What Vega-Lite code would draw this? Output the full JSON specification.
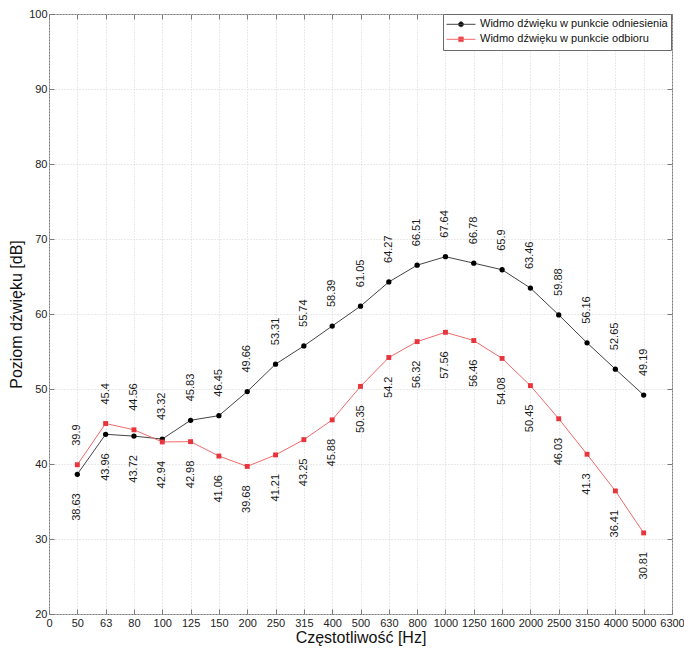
{
  "$schema": "https://vega.github.io/schema/vega-lite/v6.json",
  "width": 623,
  "height": 600,
  "autosize": {"type": "none"},
  "padding": {"left": 49, "top": 14, "right": 12, "bottom": 35},
  "background": "white",
  "config": {
    "view": {"stroke": "#7a7a7a", "strokeWidth": 1},
    "font": "Liberation Sans",
    "axis": {
      "labelFont": "Liberation Sans",
      "labelFontSize": 11,
      "labelColor": "#222222",
      "titleFont": "Liberation Sans",
      "titleFontSize": 16,
      "titleFontWeight": "normal",
      "titleColor": "#111111",
      "tickColor": "#7a7a7a",
      "gridColor": "#d4d4d4",
      "gridDash": [1, 2],
      "domain": false
    }
  },
  "data": {
    "values": [
      {"freq": 50, "series": "Widmo dźwięku w punkcie odniesienia", "level": 38.63},
      {"freq": 63, "series": "Widmo dźwięku w punkcie odniesienia", "level": 43.96},
      {"freq": 80, "series": "Widmo dźwięku w punkcie odniesienia", "level": 43.72},
      {"freq": 100, "series": "Widmo dźwięku w punkcie odniesienia", "level": 43.32},
      {"freq": 125, "series": "Widmo dźwięku w punkcie odniesienia", "level": 45.83},
      {"freq": 150, "series": "Widmo dźwięku w punkcie odniesienia", "level": 46.45},
      {"freq": 200, "series": "Widmo dźwięku w punkcie odniesienia", "level": 49.66},
      {"freq": 250, "series": "Widmo dźwięku w punkcie odniesienia", "level": 53.31},
      {"freq": 315, "series": "Widmo dźwięku w punkcie odniesienia", "level": 55.74},
      {"freq": 400, "series": "Widmo dźwięku w punkcie odniesienia", "level": 58.39},
      {"freq": 500, "series": "Widmo dźwięku w punkcie odniesienia", "level": 61.05},
      {"freq": 630, "series": "Widmo dźwięku w punkcie odniesienia", "level": 64.27},
      {"freq": 800, "series": "Widmo dźwięku w punkcie odniesienia", "level": 66.51},
      {"freq": 1000, "series": "Widmo dźwięku w punkcie odniesienia", "level": 67.64},
      {"freq": 1250, "series": "Widmo dźwięku w punkcie odniesienia", "level": 66.78},
      {"freq": 1600, "series": "Widmo dźwięku w punkcie odniesienia", "level": 65.9},
      {"freq": 2000, "series": "Widmo dźwięku w punkcie odniesienia", "level": 63.46},
      {"freq": 2500, "series": "Widmo dźwięku w punkcie odniesienia", "level": 59.88},
      {"freq": 3150, "series": "Widmo dźwięku w punkcie odniesienia", "level": 56.16},
      {"freq": 4000, "series": "Widmo dźwięku w punkcie odniesienia", "level": 52.65},
      {"freq": 5000, "series": "Widmo dźwięku w punkcie odniesienia", "level": 49.19},
      {"freq": 50, "series": "Widmo dźwięku w punkcie odbioru", "level": 39.9},
      {"freq": 63, "series": "Widmo dźwięku w punkcie odbioru", "level": 45.4},
      {"freq": 80, "series": "Widmo dźwięku w punkcie odbioru", "level": 44.56},
      {"freq": 100, "series": "Widmo dźwięku w punkcie odbioru", "level": 42.94},
      {"freq": 125, "series": "Widmo dźwięku w punkcie odbioru", "level": 42.98},
      {"freq": 150, "series": "Widmo dźwięku w punkcie odbioru", "level": 41.06},
      {"freq": 200, "series": "Widmo dźwięku w punkcie odbioru", "level": 39.68},
      {"freq": 250, "series": "Widmo dźwięku w punkcie odbioru", "level": 41.21},
      {"freq": 315, "series": "Widmo dźwięku w punkcie odbioru", "level": 43.25},
      {"freq": 400, "series": "Widmo dźwięku w punkcie odbioru", "level": 45.88},
      {"freq": 500, "series": "Widmo dźwięku w punkcie odbioru", "level": 50.35},
      {"freq": 630, "series": "Widmo dźwięku w punkcie odbioru", "level": 54.2},
      {"freq": 800, "series": "Widmo dźwięku w punkcie odbioru", "level": 56.32},
      {"freq": 1000, "series": "Widmo dźwięku w punkcie odbioru", "level": 57.56},
      {"freq": 1250, "series": "Widmo dźwięku w punkcie odbioru", "level": 56.46},
      {"freq": 1600, "series": "Widmo dźwięku w punkcie odbioru", "level": 54.08},
      {"freq": 2000, "series": "Widmo dźwięku w punkcie odbioru", "level": 50.45},
      {"freq": 2500, "series": "Widmo dźwięku w punkcie odbioru", "level": 46.03},
      {"freq": 3150, "series": "Widmo dźwięku w punkcie odbioru", "level": 41.3},
      {"freq": 4000, "series": "Widmo dźwięku w punkcie odbioru", "level": 36.41},
      {"freq": 5000, "series": "Widmo dźwięku w punkcie odbioru", "level": 30.81}
    ]
  },
  "resolve": {"axis": {"x": "independent", "y": "independent"}},
  "layer": [
    {
      "mark": {"type": "line", "strokeWidth": 1},
      "encoding": {
        "x": {
          "field": "freq", "type": "ordinal",
          "scale": {"type": "point", "padding": 0, "domain": [0, 50, 63, 80, 100, 125, 150, 200, 250, 315, 400, 500, 630, 800, 1000, 1250, 1600, 2000, 2500, 3150, 4000, 5000, 6300]},
          "axis": {"orient": "bottom", "title": "Częstotliwość [Hz]", "grid": true, "tickSize": -5, "labelPadding": 8, "labelAngle": 0, "titlePadding": 1}
        },
        "y": {
          "field": "level", "type": "quantitative",
          "scale": {"domain": [20, 100], "nice": false, "zero": false},
          "axis": {"orient": "left", "title": "Poziom dźwięku [dB]", "grid": true, "values": [20, 30, 40, 50, 60, 70, 80, 90, 100], "tickSize": -5, "labelPadding": 7, "titlePadding": 4}
        },
        "color": {
          "field": "series", "type": "nominal",
          "scale": {"domain": ["Widmo dźwięku w punkcie odniesienia", "Widmo dźwięku w punkcie odbioru"], "range": ["#444444", "#f06a6a"]},
          "legend": {
            "title": null,
            "orient": "none",
            "legendX": 394,
            "legendY": 0,
            "padding": 3,
            "fillColor": "white",
            "strokeColor": "#6a6a6a",
            "cornerRadius": 0,
            "labelFont": "Liberation Sans",
            "labelFontSize": 11,
            "labelColor": "#111111",
            "labelOffset": 4,
            "labelLimit": 400,
            "symbolSize": 841,
            "rowPadding": 0,
            "clipHeight": 14.6,
            "encode": {
              "symbols": {
                "update": {
                  "shape": {"signal": "datum.value === 'Widmo dźwięku w punkcie odniesienia' ? 'M-1,0L1,0M-0.17,0A0.17,0.17,0,1,1,0.17,0A0.17,0.17,0,1,1,-0.17,0Z' : 'M-1,0L1,0M-0.16,-0.16L0.16,-0.16L0.16,0.16L-0.16,0.16Z'"},
                  "fill": {"signal": "datum.value === 'Widmo dźwięku w punkcie odniesienia' ? '#000000' : '#e8343c'"},
                  "stroke": {"signal": "datum.value === 'Widmo dźwięku w punkcie odniesienia' ? '#444444' : '#f06a6a'"},
                  "strokeWidth": {"value": 1},
                  "opacity": {"value": 1},
                  "fillOpacity": {"value": 1}
                }
              }
            }
          }
        }
      }
    },
    {
      "transform": [{"filter": {"field": "series", "equal": "Widmo dźwięku w punkcie odniesienia"}}],
      "mark": {"type": "point", "shape": "circle", "filled": true, "opacity": 1, "size": 28, "color": "#000000"},
      "encoding": {
        "x": {
          "field": "freq", "type": "ordinal",
          "scale": {"type": "point", "padding": 0, "domain": [0, 50, 63, 80, 100, 125, 150, 200, 250, 315, 400, 500, 630, 800, 1000, 1250, 1600, 2000, 2500, 3150, 4000, 5000, 6300]},
          "axis": null
        },
        "y": {"field": "level", "type": "quantitative", "scale": {"domain": [20, 100], "nice": false, "zero": false}, "axis": null}
      }
    },
    {
      "transform": [{"filter": {"field": "series", "equal": "Widmo dźwięku w punkcie odbioru"}}],
      "mark": {"type": "point", "shape": "square", "filled": true, "opacity": 1, "size": 24, "color": "#e8343c"},
      "encoding": {
        "x": {
          "field": "freq", "type": "ordinal",
          "scale": {"type": "point", "padding": 0, "domain": [0, 50, 63, 80, 100, 125, 150, 200, 250, 315, 400, 500, 630, 800, 1000, 1250, 1600, 2000, 2500, 3150, 4000, 5000, 6300]},
          "axis": null
        },
        "y": {"field": "level", "type": "quantitative", "scale": {"domain": [20, 100], "nice": false, "zero": false}, "axis": null}
      }
    },
    {
      "transform": [
        {"joinaggregate": [{"op": "max", "field": "level", "as": "mx"}], "groupby": ["freq"]},
        {"filter": "datum.level >= datum.mx"}
      ],
      "mark": {"type": "text", "angle": 270, "align": "left", "baseline": "middle", "dx": 19, "fontSize": 11, "font": "Liberation Sans", "color": "#1a1a1a"},
      "encoding": {
        "x": {
          "field": "freq", "type": "ordinal",
          "scale": {"type": "point", "padding": 0, "domain": [0, 50, 63, 80, 100, 125, 150, 200, 250, 315, 400, 500, 630, 800, 1000, 1250, 1600, 2000, 2500, 3150, 4000, 5000, 6300]},
          "axis": {"orient": "top", "labels": false, "title": null, "grid": false, "tickSize": -5}
        },
        "y": {
          "field": "level", "type": "quantitative",
          "scale": {"domain": [20, 100], "nice": false, "zero": false},
          "axis": {"orient": "right", "labels": false, "title": null, "grid": false, "tickSize": -5, "values": [20, 30, 40, 50, 60, 70, 80, 90, 100]}
        },
        "text": {"field": "level", "type": "nominal"}
      }
    },
    {
      "transform": [
        {"joinaggregate": [{"op": "max", "field": "level", "as": "mx"}], "groupby": ["freq"]},
        {"filter": "datum.level < datum.mx"}
      ],
      "mark": {"type": "text", "angle": 270, "align": "right", "baseline": "middle", "dx": -19, "fontSize": 11, "font": "Liberation Sans", "color": "#1a1a1a"},
      "encoding": {
        "x": {
          "field": "freq", "type": "ordinal",
          "scale": {"type": "point", "padding": 0, "domain": [0, 50, 63, 80, 100, 125, 150, 200, 250, 315, 400, 500, 630, 800, 1000, 1250, 1600, 2000, 2500, 3150, 4000, 5000, 6300]},
          "axis": null
        },
        "y": {"field": "level", "type": "quantitative", "scale": {"domain": [20, 100], "nice": false, "zero": false}, "axis": null},
        "text": {"field": "level", "type": "nominal"}
      }
    }
  ]
}
